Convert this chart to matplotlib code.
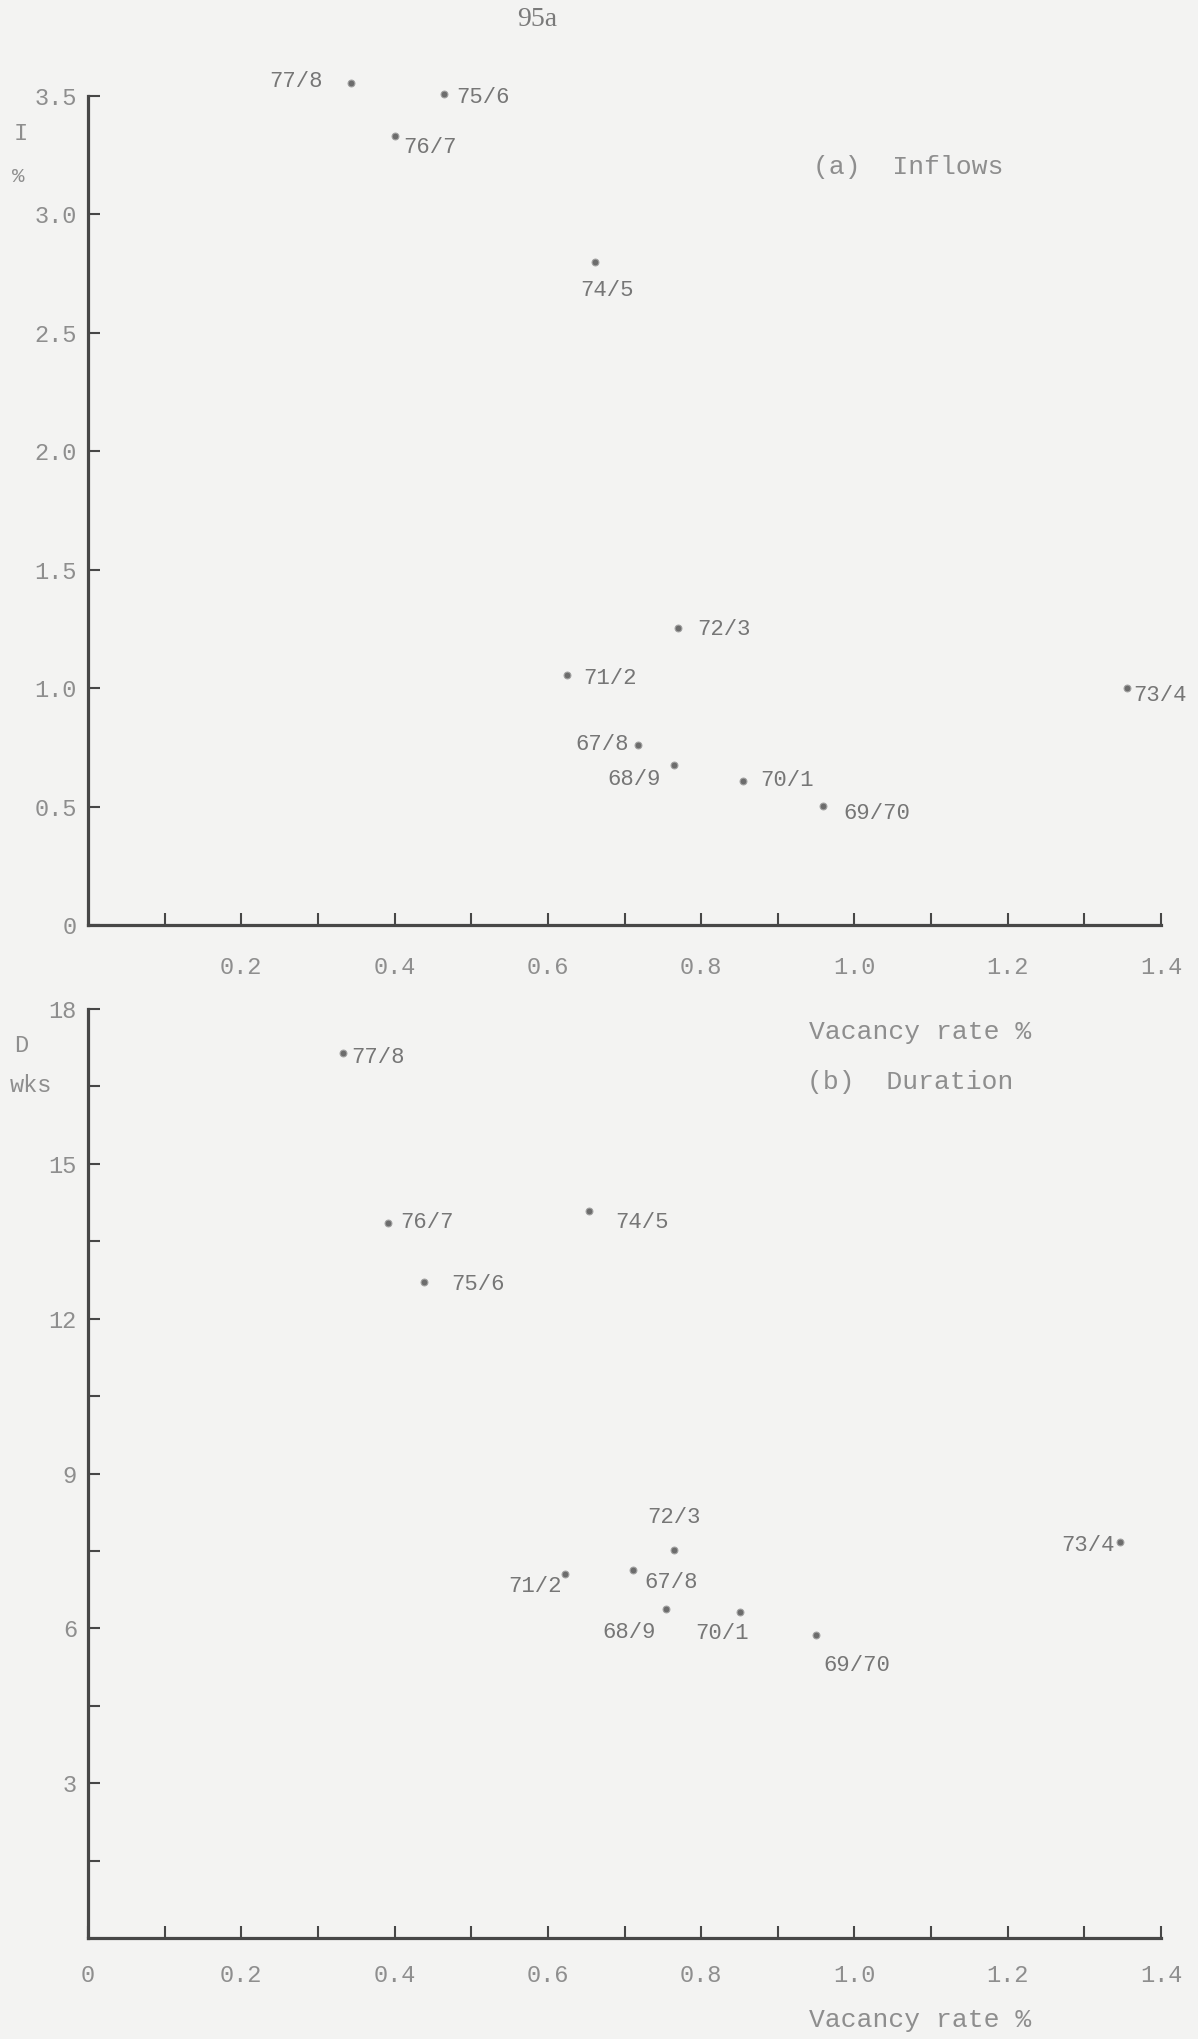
import numpy as np
import matplotlib
matplotlib.use('Agg')
import matplotlib.pyplot as plt

# year labels, same order in both panels
years = ['67/8', '68/9', '69/70', '70/1', '71/2', '72/3', '73/4', '74/5', '75/6', '76/7', '77/8']

# (a) inflows, % against vacancy rate %
vac_a = [0.717, 0.765, 0.959, 0.855, 0.625, 0.770, 1.356, 0.661, 0.464, 0.400, 0.343]
inflow = [0.762, 0.677, 0.504, 0.609, 1.057, 1.255, 0.999, 2.80, 3.507, 3.331, 3.555]

# (b) duration, weeks against vacancy rate %
vac_b = [0.711, 0.754, 0.950, 0.851, 0.623, 0.765, 1.347, 0.654, 0.438, 0.391, 0.333]
duration = [7.13, 6.37, 5.87, 6.31, 7.05, 7.51, 7.68, 14.08, 12.72, 13.86, 17.14]

# where each year label sits next to its dot (points, ha)
offs_a = {'67/8': (-6, 0, 'right'), '68/9': (-10, -11, 'right'), '69/70': (15, -6, 'left'),
          '70/1': (12, 0, 'left'), '71/2': (12, -3, 'left'), '72/3': (14, -1, 'left'),
          '73/4': (4, -5, 'left'), '74/5': (9, -21, 'center'), '75/6': (9, -2, 'left'),
          '76/7': (6, -8, 'left'), '77/8': (-20, 1, 'right')}
offs_b = {'67/8': (8, -9, 'left'), '68/9': (-7, -17, 'right'), '69/70': (5, -22, 'left'),
          '70/1': (-13, -15, 'center'), '71/2': (-3, -9, 'right'), '72/3': (0, 24, 'center'),
          '73/4': (-4, -3, 'right'), '74/5': (19, -8, 'left'), '75/6': (20, -2, 'left'),
          '76/7': (9, 0, 'left'), '77/8': (6, -3, 'left')}

paper = '#f3f3f2'
ink = '#474747'
faint = '#8e8e8e'
mono = 'Liberation Mono'

W, H = 1198, 2039
fig = plt.figure(figsize=(W/100, H/100), dpi=100, facecolor=paper)

ax_a = fig.add_axes([88/W, 1 - 925/H, 1073/W, 829/H])
ax_b = fig.add_axes([88/W, 1 - 1938/H, 1073/W, 929/H])


def setup(ax, pad_x):
    ax.set_facecolor(paper)
    for s in ['top', 'right']:
        ax.spines[s].set_visible(False)
    for s in ['left', 'bottom']:
        ax.spines[s].set_color(ink)
        ax.spines[s].set_linewidth(2.3)
    ax.tick_params(direction='in', length=8.5, width=1.5, color=ink,
                   labelcolor=faint, labelsize=17)
    ax.tick_params(axis='x', pad=pad_x)
    ax.tick_params(axis='y', pad=8)
    for t in ax.get_xticklabels() + ax.get_yticklabels():
        t.set_family(mono)


def dots(ax, xs, ys, offs):
    ax.scatter(xs, ys, s=24, facecolor='#6c6c6c', edgecolor='#a0a0a0',
               linewidth=0.8, zorder=3, clip_on=False)
    for x, y, lab in zip(xs, ys, years):
        dx, dy, ha = offs[lab]
        ax.annotate(lab, (x, y), xytext=(dx, dy), textcoords='offset points',
                    ha=ha, va='center', family=mono, fontsize=16, color='#767676',
                    annotation_clip=False)


# panel (a)
xt = np.round(np.arange(0.1, 1.41, 0.1), 1)
ax_a.set_xlim(0, 1.4)
ax_a.set_ylim(0, 3.5)
ax_a.set_xticks(xt)
ax_a.set_xticklabels([f'{v:.1f}' if round(v * 10) % 2 == 0 else '' for v in xt])
yt = np.arange(0, 3.51, 0.5)
ax_a.set_yticks(yt)
ax_a.set_yticklabels(['0'] + [f'{v:.1f}' for v in yt[1:]])
setup(ax_a, 22)
dots(ax_a, vac_a, inflow, offs_a)

# panel (b)
xt_b = np.round(np.arange(0.0, 1.41, 0.1), 1)
ax_b.set_xlim(0, 1.4)
ax_b.set_ylim(0, 18)
ax_b.set_xticks(xt_b)
ax_b.set_xticklabels(['0'] + [f'{v:.1f}' if round(v * 10) % 2 == 0 else '' for v in xt_b[1:]])
yt_b = np.arange(1.5, 18.01, 1.5)
ax_b.set_yticks(yt_b)
ax_b.set_yticklabels([f'{v:.0f}' if v % 3 == 0 else '' for v in yt_b])
setup(ax_b, 19)
dots(ax_b, vac_b, duration, offs_b)

# page number and axis captions
fig.text(537/W, 1 - 20/H, '95a', family='Liberation Serif', fontsize=20,
         color='#7a7a7a', ha='center', va='center')
txt = dict(family=mono, color=faint, va='center')
fig.text(14/W, 1 - 133/H, 'I', fontsize=17, **txt)
fig.text(12/W, 1 - 176/H, '%', fontsize=15, **txt)
fig.text(813/W, 1 - 167/H, '(a)  Inflows', fontsize=19, **txt)
fig.text(920/W, 1 - 1032/H, 'Vacancy rate %', fontsize=19, ha='center', **txt)
fig.text(807/W, 1 - 1082/H, '(b)  Duration', fontsize=19, **txt)
fig.text(14/W, 1 - 1045/H, 'D', fontsize=17, **txt)
fig.text(10/W, 1 - 1085/H, 'wks', fontsize=17, **txt)
fig.text(920/W, 1 - 2020/H, 'Vacancy rate %', fontsize=19, ha='center', **txt)

fig.savefig('out.png', dpi=100, facecolor=paper)
